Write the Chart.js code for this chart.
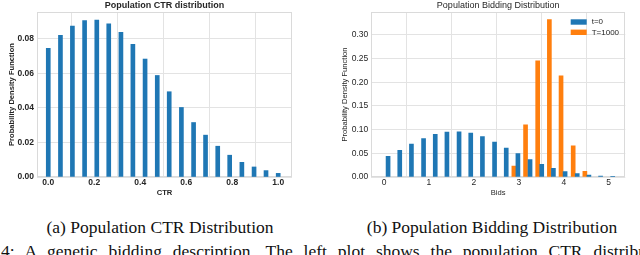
<!DOCTYPE html>
<html>
<head>
<meta charset="utf-8">
<script src="https://cdn.jsdelivr.net/npm/chart.js@4.4.1/dist/chart.umd.min.js"></script>
<style>
  body { margin: 0; width: 640px; height: 255px; overflow: hidden; background: #fff; position: relative; }
  #ctr-chart { position: absolute; left: 0; top: 0; }
  #bid-chart { position: absolute; left: 320px; top: 0; }
  .caption {
    position: absolute; font-family: "Liberation Serif", serif; font-size: 17.5px;
    line-height: 20px; color: #111; white-space: nowrap;
  }
  #cap-a { left: 0; width: 320px; top: 217px; text-align: center; }
  #cap-b { left: 332px; width: 320px; top: 217px; text-align: center; }
  #cap-line { left: 1px; top: 241px; word-spacing: 6.5px; }
</style>
</head>
<body>
<canvas id="ctr-chart" width="320" height="200"></canvas>
<canvas id="bid-chart" width="320" height="200"></canvas>
<div class="caption" id="cap-a">(a) Population CTR Distribution</div>
<div class="caption" id="cap-b">(b) Population Bidding Distribution</div>
<div class="caption" id="cap-line">4: A genetic bidding description. The left plot shows the population CTR distribution of the agents</div>

<script>
// CTR histogram (left)
const ctrBins = [0.000, 0.053, 0.105, 0.158, 0.211, 0.263, 0.316, 0.368, 0.421, 0.474,
  0.526, 0.579, 0.632, 0.684, 0.737, 0.789, 0.842, 0.895, 0.947, 1.000]
const ctrDensity = [0.0744, 0.0819, 0.0873, 0.0904, 0.0908, 0.0885, 0.0837, 0.0767, 0.0682, 0.0587,
  0.0493, 0.0402, 0.0315, 0.0242, 0.0178, 0.0126, 0.0085, 0.0058, 0.0037, 0.0021]
const ctrTicksX = [0, 0.2, 0.4, 0.6, 0.8, 1.0]
const ctrTicksY = [0, 0.02, 0.04, 0.06, 0.08]

// Bidding histograms (right)
const bidBinsStart = [0.09, 0.35, 0.61, 0.88, 1.14, 1.40, 1.67, 1.93, 2.19, 2.46,
  2.72, 2.98, 3.25, 3.51, 3.77, 4.03, 4.30, 4.56, 4.82, 5.09]
const bidDensityStart = [0.0436, 0.0562, 0.0696, 0.0808, 0.0899, 0.0948, 0.0955, 0.0927, 0.0850, 0.0738,
  0.0611, 0.0492, 0.0365, 0.0267, 0.0183, 0.0112, 0.0070, 0.0042, 0.0021, 0.0014]
const bidBinsEnd = [2.89, 3.15, 3.42, 3.68, 3.94, 4.21, 4.47]
const bidDensityEnd = [0.0232, 0.1100, 0.2450, 0.3320, 0.2136, 0.0660, 0.0120]
const bidTicksX = [0, 1, 2, 3, 4, 5]
const bidTicksY = [0, 0.05, 0.10, 0.15, 0.20, 0.25, 0.30]

const blue = "#1f77b4"
const orange = "#ff7f0e"
const gridColor = "#e3e3e3"
const textColor = "#262626"

Chart.defaults.font.family = "'Liberation Sans', Arial, sans-serif"
Chart.defaults.color = textColor

const toPoints = (xs, ys) => xs.map((x, i) => ({ x: x, y: ys[i] }))

// light frame round the plot area, like the seaborn whitegrid spines
const frame = {
  id: "frame",
  beforeDatasetsDraw(chart) {
    const { ctx, chartArea: a } = chart
    ctx.save()
    ctx.strokeStyle = "#dadada"
    ctx.lineWidth = 1
    ctx.strokeRect(Math.round(a.left) + 0.5, Math.round(a.top) + 0.5,
      Math.round(a.width) - 1, Math.round(a.height) - 1)
    ctx.restore()
  },
}

// legend drawn inside the top right corner of the plot
const innerLegend = {
  id: "innerLegend",
  afterDraw(chart) {
    const { ctx, chartArea: a } = chart
    ctx.save()
    ctx.font = "8px 'Liberation Sans', Arial, sans-serif"
    ctx.textBaseline = "middle"
    chart.data.datasets.forEach((ds, i) => {
      const y = a.top + 10 + i * 10.3
      ctx.fillStyle = ds.backgroundColor
      ctx.fillRect(a.right - 54.6, y - 2.7, 16, 5.4)
      ctx.fillStyle = textColor
      ctx.fillText(ds.label, a.right - 33.6, y)
    })
    ctx.restore()
  },
}

function keepTicks(values) {
  return (scale) => {
    scale.ticks = values.map((v) => ({ value: v }))
  }
}

function buildOptions(cfg) {
  const fontWeight = cfg.bold ? "bold" : "normal"
  return {
    responsive: false,
    animation: false,
    layout: { padding: { left: 0, right: cfg.rightPad, top: 0, bottom: 0 } },
    plugins: {
      legend: { display: false },
      tooltip: { enabled: false },
      title: {
        display: true,
        fullSize: false,
        text: cfg.title,
        color: textColor,
        font: { size: 9, weight: fontWeight },
        padding: { top: 0, bottom: 1.2 },
      },
    },
    scales: {
      x: {
        type: "linear",
        min: cfg.xMin,
        max: cfg.xMax,
        offset: false,
        grid: { color: gridColor, drawTicks: false },
        border: { display: false },
        afterBuildTicks: keepTicks(cfg.xTicks),
        ticks: {
          padding: 1,
          color: textColor,
          font: { size: 8.5, weight: fontWeight },
          callback: cfg.xFormat,
        },
        title: {
          display: true,
          text: cfg.xLabel,
          color: textColor,
          font: { size: 7.6, weight: fontWeight },
          padding: { top: 0, bottom: 2.7 },
        },
        afterFit: (scale) => { scale.height = 23 },
      },
      y: {
        min: 0,
        max: cfg.yMax,
        grid: { color: gridColor, drawTicks: false },
        border: { display: false },
        afterBuildTicks: keepTicks(cfg.yTicks),
        ticks: {
          padding: cfg.yTickPad,
          color: textColor,
          font: { size: 8.5, weight: fontWeight },
          callback: (v) => v.toFixed(2),
        },
        title: {
          display: true,
          text: "Probability Density Function",
          color: textColor,
          font: { size: 7.6, weight: fontWeight },
          padding: { top: cfg.yTitlePad, bottom: 0 },
        },
        afterFit: (scale) => { scale.width = cfg.yWidth },
      },
    },
  }
}

new Chart(document.getElementById("ctr-chart"), {
  type: "bar",
  data: {
    datasets: [
      {
        label: "CTR",
        data: toPoints(ctrBins, ctrDensity),
        backgroundColor: blue,
        barThickness: 4,
        grouped: false,
      },
    ],
  },
  options: buildOptions({
    bold: true,
    title: "Population CTR distribution",
    xLabel: "CTR",
    xMin: -0.049,
    xMax: 1.06,
    xTicks: ctrTicksX,
    xFormat: (v) => v.toFixed(1),
    yMax: 0.0954,
    yTicks: ctrTicksY,
    yWidth: 37,
    yTickPad: 3,
    yTitlePad: 7.7,
    rightPad: 28,
  }),
  plugins: [frame],
})

new Chart(document.getElementById("bid-chart"), {
  type: "bar",
  data: {
    datasets: [
      {
        label: "t=0",
        data: toPoints(bidBinsStart, bidDensityStart),
        backgroundColor: blue,
        barThickness: 4,
        grouped: false,
      },
      {
        label: "T=1000",
        data: toPoints(bidBinsEnd, bidDensityEnd),
        backgroundColor: orange,
        barThickness: 4,
        grouped: false,
      },
    ],
  },
  options: buildOptions({
    bold: false,
    title: "Population Bidding Distribution",
    xLabel: "Bids",
    xMin: -0.29,
    xMax: 5.37,
    xTicks: bidTicksX,
    xFormat: (v) => String(v),
    yMax: 0.348,
    yTicks: bidTicksY,
    yWidth: 51,
    yTickPad: 2.7,
    yTitlePad: 20.4,
    rightPad: 14.7,
  }),
  plugins: [frame, innerLegend],
})
</script>
</body>
</html>
